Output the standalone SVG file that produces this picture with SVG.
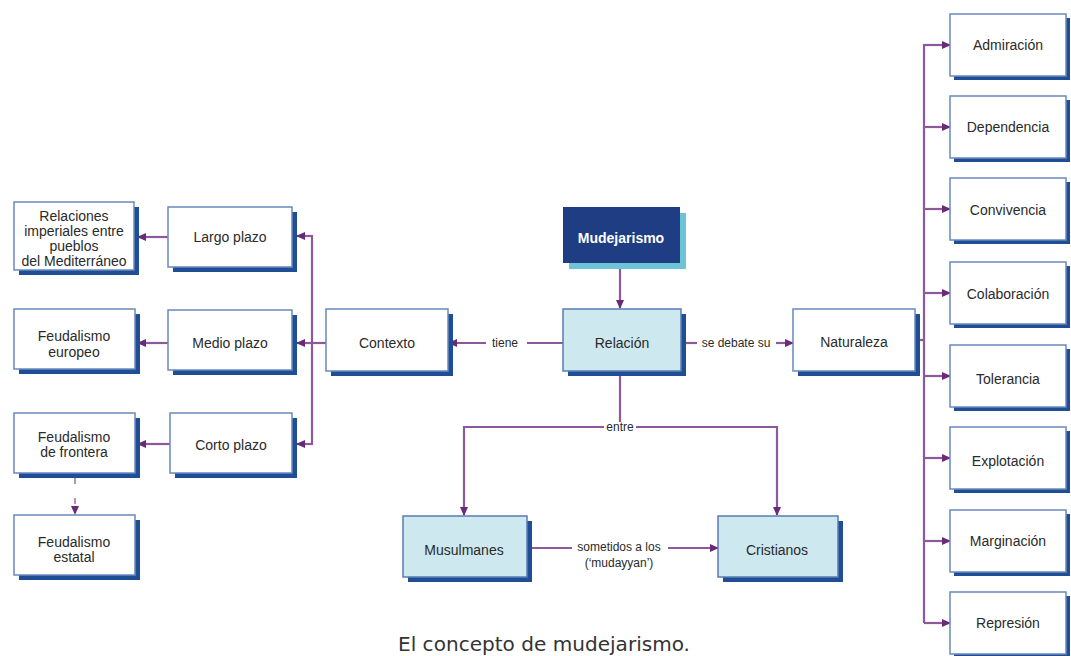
<svg xmlns="http://www.w3.org/2000/svg" width="1071" height="656" viewBox="0 0 1071 656">
<style>
.shadow{fill:#1f4e94}
.box{fill:#ffffff;stroke:#6a89bf;stroke-width:1.5}
.lbox{fill:#cde8ee;stroke:#5a7cb5;stroke-width:1.5}
.t{font-family:"Liberation Sans",Arial,sans-serif;font-size:14px;fill:#2a2a2a;text-anchor:middle}
.s{font-family:"Liberation Sans",Arial,sans-serif;font-size:12px;fill:#2a2a2a;text-anchor:middle}
.w{font-family:"Liberation Sans",Arial,sans-serif;font-size:14px;font-weight:bold;fill:#ffffff;text-anchor:middle}
.c{fill:none;stroke:#8c5a9c;stroke-width:2.2}
.a{fill:none;stroke:#8c5a9c;stroke-width:2.2;marker-end:url(#ah)}
.cap{font-family:"DejaVu Sans","Liberation Sans",sans-serif;font-size:19px;fill:#333;text-anchor:middle}
</style>
<defs>
<marker id="ah" markerWidth="9" markerHeight="8" refX="8" refY="4" orient="auto" markerUnits="userSpaceOnUse">
<path d="M0,0 L9,4 L0,8 Z" fill="#6a2a78"/>
</marker>
</defs>
<rect width="1071" height="656" fill="#ffffff"/>

<g id="connectors">
<line class="a" x1="620" y1="263" x2="620" y2="308"/>
<line class="c" x1="563" y1="343" x2="527" y2="343"/>
<line class="a" x1="486" y1="343" x2="449" y2="343"/>
<line class="c" x1="326" y1="343" x2="312" y2="343"/>
<line class="c" x1="312" y1="235" x2="312" y2="445"/>
<line class="a" x1="312" y1="236" x2="297" y2="236"/>
<line class="a" x1="312" y1="343" x2="297" y2="343"/>
<line class="a" x1="312" y1="444" x2="297" y2="444"/>
<line class="a" x1="168" y1="237" x2="138" y2="237"/>
<line class="a" x1="168" y1="343" x2="138" y2="343"/>
<line class="a" x1="170" y1="444" x2="138" y2="444"/>
<line x1="75" y1="478" x2="75" y2="514" stroke="#a07aab" stroke-width="1.6" stroke-dasharray="6,14" marker-end="url(#ah)"/>
<line class="c" x1="681" y1="343" x2="697" y2="343"/>
<line class="a" x1="776" y1="343" x2="793" y2="343"/>
<line class="c" x1="920" y1="340" x2="924" y2="340"/>
<line class="c" x1="924" y1="44" x2="924" y2="623"/>
<line class="a" x1="924" y1="45" x2="950" y2="45"/>
<line class="a" x1="924" y1="127" x2="950" y2="127"/>
<line class="a" x1="924" y1="209" x2="950" y2="209"/>
<line class="a" x1="924" y1="293" x2="950" y2="293"/>
<line class="a" x1="924" y1="376" x2="950" y2="376"/>
<line class="a" x1="924" y1="458" x2="950" y2="458"/>
<line class="a" x1="924" y1="541" x2="950" y2="541"/>
<line class="a" x1="924" y1="623" x2="950" y2="623"/>
<line class="c" x1="620" y1="372" x2="620" y2="422"/>
<polyline class="c" points="604,427 464,427"/>
<polyline class="c" points="636,427 777,427"/>
<line class="a" x1="464" y1="426" x2="464" y2="515"/>
<line class="a" x1="777" y1="426" x2="777" y2="515"/>
<line class="c" x1="527" y1="548" x2="572" y2="548"/>
<line class="a" x1="668" y1="548" x2="718" y2="548"/>
<text class="s" x="505" y="347">tiene</text>
<text class="s" x="736" y="347">se debate su</text>
<text class="s" x="620" y="431">entre</text>
<text class="s" x="619" y="551">sometidos a los</text>
<text class="s" x="619" y="567">(‘mudayyan’)</text>
</g>

<g id="n-relaciones">
<rect class="shadow" x="19" y="207" width="120" height="68"/>
<rect class="box" x="14" y="202" width="120" height="68"/>
<text class="t" x="74" y="221">Relaciones</text>
<text class="t" x="74" y="236">imperiales entre</text>
<text class="t" x="74" y="251">pueblos</text>
<text class="t" x="74" y="266">del Mediterráneo</text>
</g>
<g id="n-largo">
<rect class="shadow" x="173" y="212" width="124" height="60"/>
<rect class="box" x="168" y="207" width="124" height="60"/>
<text class="t" x="230" y="242">Largo plazo</text>
</g>
<g id="n-feuropeo">
<rect class="shadow" x="19" y="314" width="121" height="60"/>
<rect class="box" x="14" y="309" width="121" height="60"/>
<text class="t" x="74" y="341">Feudalismo</text>
<text class="t" x="74" y="357">europeo</text>
</g>
<g id="n-medio">
<rect class="shadow" x="173" y="315" width="124" height="60"/>
<rect class="box" x="168" y="310" width="124" height="60"/>
<text class="t" x="230" y="348">Medio plazo</text>
</g>
<g id="n-ffrontera">
<rect class="shadow" x="19" y="418" width="121" height="60"/>
<rect class="box" x="14" y="413" width="121" height="60"/>
<text class="t" x="74" y="442">Feudalismo</text>
<text class="t" x="74" y="457">de frontera</text>
</g>
<g id="n-corto">
<rect class="shadow" x="175" y="418" width="122" height="60"/>
<rect class="box" x="170" y="413" width="122" height="60"/>
<text class="t" x="231" y="450">Corto plazo</text>
</g>
<g id="n-festatal">
<rect class="shadow" x="19" y="520" width="121" height="60"/>
<rect class="box" x="14" y="515" width="121" height="60"/>
<text class="t" x="74" y="547">Feudalismo</text>
<text class="t" x="74" y="562">estatal</text>
</g>
<g id="n-contexto">
<rect class="shadow" x="331" y="314" width="122" height="62"/>
<rect class="box" x="326" y="309" width="122" height="62"/>
<text class="t" x="387" y="348">Contexto</text>
</g>
<g id="n-mudejarismo">
<rect x="569" y="213" width="117" height="56" fill="#6cc4d6"/>
<rect x="563" y="207" width="117" height="56" fill="#1e3d82"/>
<text class="w" x="621" y="243">Mudejarismo</text>
</g>
<g id="n-relacion">
<rect class="shadow" x="568" y="314" width="118" height="62"/>
<rect class="lbox" x="563" y="309" width="118" height="62"/>
<text class="t" x="622" y="348">Relación</text>
</g>
<g id="n-naturaleza">
<rect class="shadow" x="798" y="314" width="122" height="62"/>
<rect class="box" x="793" y="309" width="122" height="62"/>
<text class="t" x="854" y="347">Naturaleza</text>
</g>
<g id="n-musulmanes">
<rect class="shadow" x="408" y="521" width="124" height="61"/>
<rect class="lbox" x="403" y="516" width="124" height="61"/>
<text class="t" x="464" y="555">Musulmanes</text>
</g>
<g id="n-cristianos">
<rect class="shadow" x="723" y="521" width="120" height="61"/>
<rect class="lbox" x="718" y="516" width="120" height="61"/>
<text class="t" x="777" y="555">Cristianos</text>
</g>

<g id="n-admiracion">
<rect class="shadow" x="954" y="18" width="116" height="62"/>
<rect class="box" x="950" y="14" width="116" height="62"/>
<text class="t" x="1008" y="50">Admiración</text>
</g>
<g id="n-dependencia">
<rect class="shadow" x="954" y="100" width="116" height="62"/>
<rect class="box" x="950" y="96" width="116" height="62"/>
<text class="t" x="1008" y="132">Dependencia</text>
</g>
<g id="n-convivencia">
<rect class="shadow" x="954" y="182" width="116" height="62"/>
<rect class="box" x="950" y="178" width="116" height="62"/>
<text class="t" x="1008" y="215">Convivencia</text>
</g>
<g id="n-colaboracion">
<rect class="shadow" x="954" y="266" width="116" height="62"/>
<rect class="box" x="950" y="262" width="116" height="62"/>
<text class="t" x="1008" y="299">Colaboración</text>
</g>
<g id="n-tolerancia">
<rect class="shadow" x="954" y="349" width="116" height="62"/>
<rect class="box" x="950" y="345" width="116" height="62"/>
<text class="t" x="1008" y="384">Tolerancia</text>
</g>
<g id="n-explotacion">
<rect class="shadow" x="954" y="431" width="116" height="62"/>
<rect class="box" x="950" y="427" width="116" height="62"/>
<text class="t" x="1008" y="466">Explotación</text>
</g>
<g id="n-marginacion">
<rect class="shadow" x="954" y="514" width="116" height="62"/>
<rect class="box" x="950" y="510" width="116" height="62"/>
<text class="t" x="1008" y="546">Marginación</text>
</g>
<g id="n-represion">
<rect class="shadow" x="954" y="596" width="116" height="62"/>
<rect class="box" x="950" y="592" width="116" height="62"/>
<text class="t" x="1008" y="628">Represión</text>
</g>

<text class="cap" x="544" y="651" textLength="292" lengthAdjust="spacingAndGlyphs">El concepto de mudejarismo.</text>
</svg>
